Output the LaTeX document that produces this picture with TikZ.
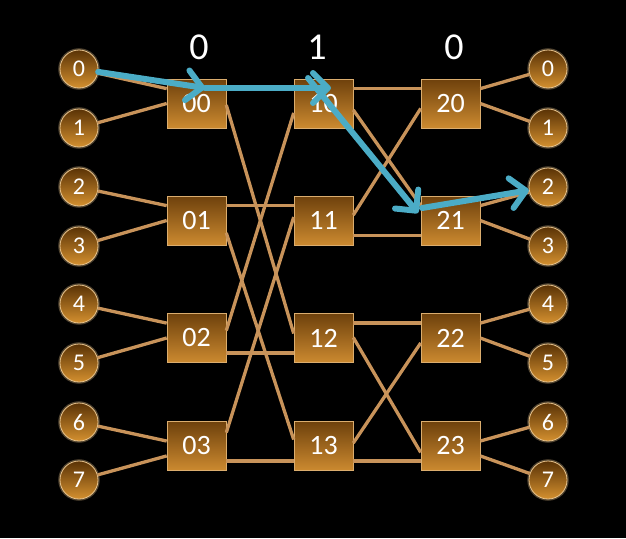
\documentclass[tikz,border=0pt]{standalone}
\usepackage{fontspec}
\setmainfont{Carlito}
\usetikzlibrary{calc,arrows.meta}

\definecolor{wirecol}{HTML}{C8935A}
\definecolor{boxtop}{HTML}{6E410C}
\definecolor{boxbot}{HTML}{CC8A30}
\definecolor{balltop}{HTML}{5A3306}
\definecolor{ballbot}{HTML}{D4902F}
\definecolor{glowcol}{HTML}{E8C38C}
\definecolor{pathcol}{HTML}{4BACC6}

\tikzset{
  port/.style={circle, minimum size=38pt, inner sep=0pt,
    top color=balltop, bottom color=ballbot, draw=glowcol, line width=0.8pt,
    preaction={draw=glowcol, line width=3.5pt, opacity=0.35},
    text=white, font=\fontsize{24}{24}\selectfont},
  switch/.style={rectangle, minimum width=59pt, minimum height=49pt, inner sep=0pt,
    top color=boxtop, bottom color=boxbot, draw=boxbot!70!white, line width=0.6pt,
    text=white, font=\fontsize{28}{28}\selectfont},
  wire/.style={draw=wirecol, line width=3.3pt},
  route/.style={draw=pathcol, line width=6pt, line cap=round,
    -{Straight Barb[length=15pt,width=30pt,line width=6pt,round]}},
  bit/.style={text=white, font=\fontsize{38}{38}\selectfont}
}

\begin{document}
\begin{tikzpicture}[x=1pt,y=-1pt]
  % Background
  \fill[black] (0,0) rectangle (626,538);

  % Ports
  \foreach \i/\y in {0/69,1/128,2/187,3/246,4/304,5/363,6/422,7/480} {
    \node[port] (in\i) at (79,\y) {\i};
    \node[port] (out\i) at (548,\y) {\i};
  }

  % Switches
  \foreach \j/\y in {0/103.5,1/220.5,2/338,3/446} {
    \node[switch] (b0\j) at (196.5,\y) {0\j};
    \node[switch] (b1\j) at (323.5,\y) {1\j};
    \node[switch] (b2\j) at (450.5,\y) {2\j};
  }

  % Stage bits
  \node[bit] (bit0) at (199,47) {0};
  \node[bit] (bit1) at (317,47) {1};
  \node[bit] (bit2) at (454,47) {0};

  % Ports to switches
  \foreach \j/\u/\l in {0/0.2/0.5,1/0.2/0.5,2/0.2/0.5,3/0.4/0.7} {
    \pgfmathtruncatemacro\a{2*\j}
    \pgfmathtruncatemacro\b{2*\j+1}
    \draw[wire] (in\a) -- ($(b0\j.north west)!\u!(b0\j.south west)$);
    \draw[wire] (in\b) -- ($(b0\j.north west)!\l!(b0\j.south west)$);
    \draw[wire] ($(b2\j.north east)!\u!(b2\j.south east)$) -- (out\a);
    \draw[wire] ($(b2\j.north east)!\l!(b2\j.south east)$) -- (out\b);
  }

  % Straight links
  \foreach \j/\f in {0/0.2,1/0.2,2/0.8,3/0.8}
    \draw[wire] ($(b0\j.north east)!\f!(b0\j.south east)$) -- ($(b1\j.north west)!\f!(b1\j.south west)$);
  \foreach \j/\f in {0/0.2,1/0.8,2/0.2,3/0.8}
    \draw[wire] ($(b1\j.north east)!\f!(b1\j.south east)$) -- ($(b2\j.north west)!\f!(b2\j.south west)$);

  % Crossed links
  \foreach \a/\fa/\b/\fb in {b00/0.53/b12/0.41, b01/0.75/b13/0.37, b02/0.35/b10/0.69, b03/0.23/b11/0.43,
                             b10/0.63/b21/0.2, b11/0.39/b20/0.6, b12/0.49/b23/0.63, b13/0.44/b22/0.6}
    \draw[wire] ($(\a.north east)!\fa!(\a.south east)$) -- ($(\b.north west)!\fb!(\b.south west)$);

  % Route
  \coordinate (p0) at (205,88);
  \coordinate (p1) at (331,88);
  \coordinate (p2) at (308,78);
  \coordinate (p3) at (418,213);
  \coordinate (p4) at (422,208);
  \draw[route] (in0) -- (p0);
  \draw[route] (p0) -- (p1);
  \draw[route] (p2) -- (p3);
  \draw[route] (p4) -- (out2);
\end{tikzpicture}
\end{document}
